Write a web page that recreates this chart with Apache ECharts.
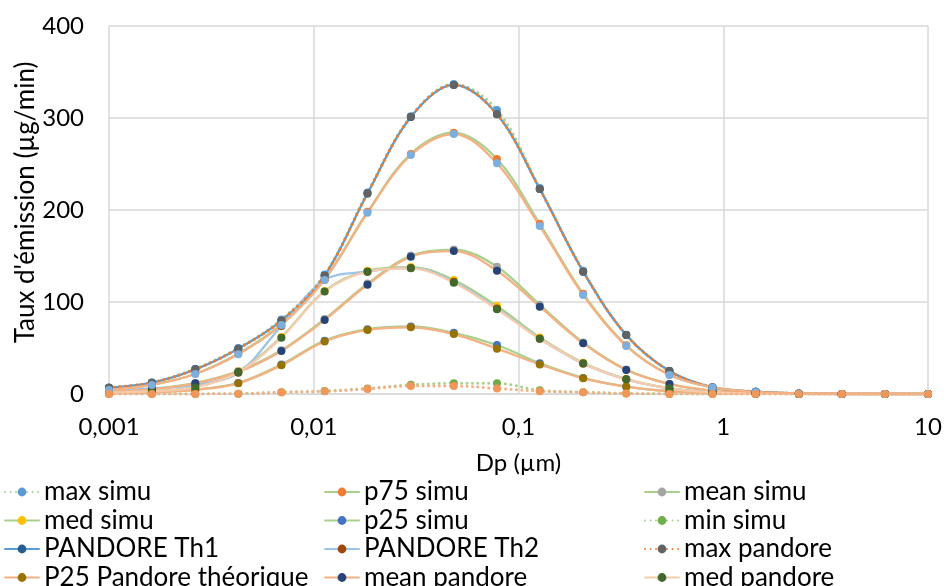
<!DOCTYPE html>
<html>
<head>
<meta charset="utf-8">
<script src="https://cdn.jsdelivr.net/npm/echarts@6/dist/echarts.min.js"></script>
<style>
  html, body { margin: 0; padding: 0; background: #fff; }
  #chart { width: 946px; height: 586px; }
</style>
</head>
<body>
<div id="chart"></div>
<script>
// particle diameter (µm), one point per 1/19 of the 4 decades
var dp = [0.001, 0.00162, 0.00264, 0.00428, 0.00695, 0.0113, 0.0183, 0.0298, 0.0483, 0.0785,
          0.127, 0.207, 0.336, 0.546, 0.886, 1.44, 2.34, 3.79, 6.16, 10];
var xTickLabels = ['0,001', '0,01', '0,1', '1', '10'];
var yTicks = [0, 100, 200, 300, 400];

// emission rates (µg/min)
var maxSimu     = [7, 12.6, 27.5, 50, 81, 130, 219, 302, 337, 308.7, 224, 134, 64.5, 25.2, 7.5, 2.6, 0.6, 0.1, 0, 0];
var p75Simu     = [4.5, 10, 22, 44, 76, 125, 198, 261, 284, 255.4, 185, 109, 53, 21, 7.3, 2.2, 0.5, 0.1, 0, 0];
var meanSimu    = [2.6, 5.2, 12, 25, 47.5, 81.5, 120, 150.5, 157, 138.4, 97, 56, 26.5, 11, 3.5, 0.9, 0.2, 0, 0, 0];
var medSimu     = [1.6, 3.3, 7.5, 24.5, 62, 112, 134, 138, 123.9, 95.6, 61.5, 34, 16.2, 6.3, 1.8, 0.4, 0.1, 0, 0, 0];
var p25Simu     = [0.9, 1.9, 4.7, 12, 32, 58, 70.5, 73.5, 66.5, 53.3, 33.5, 17.5, 8.1, 3, 0.8, 0.2, 0, 0, 0, 0];
var minSimu     = [0, 0, 0.1, 0.4, 2, 3.2, 6, 10, 11.6, 11.6, 4, 2, 0.6, 0.1, 0, 0, 0, 0, 0, 0];
var pandoreTh1  = [6.8, 12.3, 26.8, 49.3, 79.7, 128.6, 218, 301, 336, 304, 222.8, 133, 64.1, 25, 7.2, 2.5, 0.6, 0.1, 0, 0];
var pandoreTh2  = [3, 6, 10, 23, 74, 124, 133, 137, 122, 93, 60, 33, 16, 6.2, 1.8, 0.4, 0.1, 0, 0, 0];
var maxPandore  = [6.8, 12.3, 26.8, 49.3, 79.7, 128.6, 218, 301, 336, 304, 222.8, 133, 64.1, 25, 7.2, 2.5, 0.6, 0.1, 0, 0];
var p25Pandore  = [0.8, 1.8, 4.5, 11.6, 31.2, 57, 69.6, 72.5, 65.2, 49.3, 32.2, 17, 7.9, 3, 0.8, 0.2, 0, 0, 0, 0];
var meanPandore = [2.5, 5, 11.6, 24, 46.7, 80.4, 118.8, 149.3, 155.4, 134, 94.9, 55.1, 26.1, 10.9, 3.5, 0.9, 0.2, 0, 0, 0];
var medPandore  = [1.5, 3.1, 7.2, 23.6, 61.2, 111.4, 133, 136.6, 121, 92, 60, 33.3, 15.9, 6.2, 1.8, 0.4, 0.1, 0, 0, 0];
var p75Pandore  = [4.3, 9.8, 21.7, 43.1, 75, 124, 197, 259.8, 282.6, 250.7, 182.6, 107.6, 52.2, 20.6, 7.2, 2.2, 0.5, 0.1, 0, 0];
var minPandore  = [0, 0, 0.1, 0.3, 1.8, 2.9, 5.4, 8.7, 8.7, 6, 3.1, 1.8, 0.5, 0.1, 0, 0, 0, 0, 0, 0];

// legend, read row by row (3 columns)
var legendNames = ['max simu', 'p75 simu', 'mean simu',
                   'med simu', 'p25 simu', 'min simu',
                   'PANDORE Th1', 'PANDORE Th2', 'max pandore',
                   'P25 Pandore théorique', 'mean pandore', 'med pandore'];

var FONT = 'Lato';
var dots = [0.01, 5.5];

function pairs(vals) {
    return vals.map(function (v, i) { return [dp[i], v]; });
}

function mk(name, vals, lineColor, markerColor, dotted) {
    return {
        name: name,
        type: 'line',
        smooth: 0.35,
        symbol: 'circle',
        symbolSize: 8,
        data: pairs(vals),
        lineStyle: {
            color: lineColor,
            width: dotted ? 3 : 2.3,
            type: dotted ? dots : 'solid',
            cap: 'round'
        },
        itemStyle: { color: markerColor },
        emphasis: { disabled: true }
    };
}

// one legend box per entry so the 3 columns line up like the original
var legends = legendNames.map(function (name, i) {
    var col = i % 3, row = Math.floor(i / 3);
    return {
        orient: 'horizontal',
        left: 4 + col * 320,
        top: 479 + row * 28.5,
        itemWidth: 34,
        itemHeight: 11,
        selectedMode: false,
        padding: 0,
        data: [name],
        textStyle: { fontFamily: FONT, fontSize: 26, color: '#000', lineHeight: 22 }
    };
});

var chart = echarts.init(document.getElementById('chart'));

var option = {
    animation: false,
    backgroundColor: '#fff',
    grid: { left: 109, right: 18, top: 26, bottom: 192 },
    legend: legends,
    xAxis: {
        type: 'log',
        logBase: 10,
        min: 0.001,
        max: 10,
        name: 'Dp (µm)',
        nameLocation: 'middle',
        nameGap: 57,
        nameMoveOverlap: false,
        nameTextStyle: { fontFamily: FONT, fontSize: 24, color: '#000' },
        axisLine: { lineStyle: { color: '#d9d9d9', width: 1.5 } },
        axisTick: { show: false },
        axisLabel: {
            fontFamily: FONT, fontSize: 24, color: '#000', margin: 21,
            formatter: function (v) { return xTickLabels[Math.round(Math.log10(v)) + 3]; }
        },
        splitLine: { show: true, lineStyle: { color: '#d9d9d9', width: 1.5 } }
    },
    yAxis: {
        type: 'value',
        min: yTicks[0],
        max: yTicks[yTicks.length - 1],
        interval: 100,
        name: "Taux d'émission (µg/min)",
        nameLocation: 'middle',
        nameGap: 70,
        nameMoveOverlap: false,
        nameTextStyle: { fontFamily: FONT, fontSize: 26, color: '#000', padding: [0, 0, 0, 15] },
        axisLine: { show: false },
        axisTick: { show: false },
        axisLabel: { fontFamily: FONT, fontSize: 24, color: '#000', margin: 25 },
        splitLine: { lineStyle: { color: '#d9d9d9', width: 1.5 } }
    },
    series: [
        mk('max simu', maxSimu, '#a9d18e', '#5b9bd5', true),
        mk('p75 simu', p75Simu, '#a9d18e', '#ed7d31', false),
        mk('mean simu', meanSimu, '#a9d18e', '#a5a5a5', false),
        mk('med simu', medSimu, '#a9d18e', '#ffc000', false),
        mk('p25 simu', p25Simu, '#a9d18e', '#4472c4', false),
        mk('min simu', minSimu, '#a9d18e', '#70ad47', true),
        mk('PANDORE Th1', pandoreTh1, '#5b9bd5', '#255e91', false),
        mk('PANDORE Th2', pandoreTh2, '#9dc3e6', '#9e480e', false),
        mk('max pandore', maxPandore, '#ed7d31', '#636363', true),
        mk('P25 Pandore théorique', p25Pandore, '#f4b183', '#997300', false),
        mk('mean pandore', meanPandore, '#f4b183', '#264478', false),
        mk('med pandore', medPandore, '#f8cbad', '#43682b', false),
        mk('p75 pandore', p75Pandore, '#f4b183', '#7cafdd', false),
        mk('min pandore', minPandore, '#f4b183', '#f1975a', true)
    ]
};

chart.setOption(option);
</script>
</body>
</html>
